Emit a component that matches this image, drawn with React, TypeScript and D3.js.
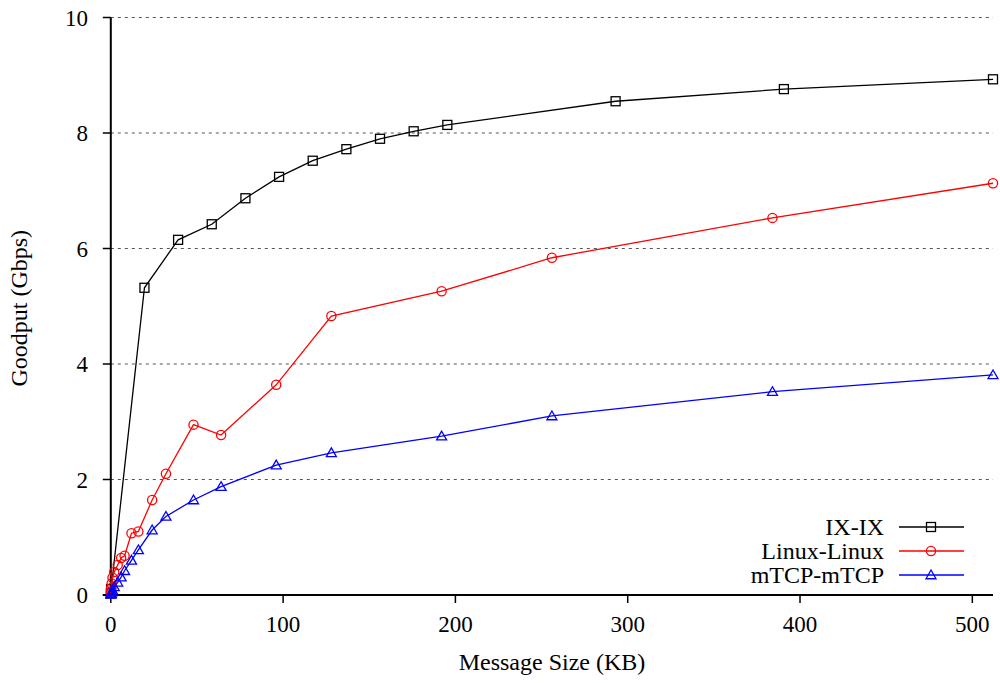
import React from "react";
import * as d3 from "d3";

const ixX = [0.0195, 0.195, 19.53, 39.06, 58.59, 78.13, 97.66, 117.19, 136.72, 156.25, 175.78, 195.31, 292.97, 390.63, 512];
const ixY = [0.03, 0.1, 5.32, 6.15, 6.42, 6.87, 7.24, 7.52, 7.72, 7.9, 8.03, 8.14, 8.55, 8.76, 8.93];

const linuxX = [0.0625, 0.125, 0.25, 0.5, 1, 2, 4, 6, 8, 12, 16, 24, 32, 48, 64, 96, 128, 192, 256, 384, 512];
const linuxY = [0.03, 0.06, 0.12, 0.2, 0.3, 0.4, 0.52, 0.64, 0.68, 1.07, 1.1, 1.645, 2.1, 2.95, 2.77, 3.64, 4.83, 5.26, 5.84, 6.53, 7.13];

const mtcpX = [0.0625, 0.125, 0.25, 0.5, 1, 2, 4, 6, 8, 12, 16, 24, 32, 48, 64, 96, 128, 192, 256, 384, 512];
const mtcpY = [0.01, 0.02, 0.03, 0.05, 0.08, 0.14, 0.22, 0.31, 0.42, 0.6, 0.78, 1.125, 1.36, 1.645, 1.875, 2.25, 2.46, 2.75, 3.1, 3.52, 3.81];

const xTicks = [0, 100, 200, 300, 400, 500];
const yTicks = [0, 2, 4, 6, 8, 10];
const seriesNames = ["IX-IX", "Linux-Linux", "mTCP-mTCP"];
const seriesColors = ["#000000", "#ff0000", "#0000ff"];

const FONT = "'Liberation Serif', 'Times New Roman', serif";

function Marker({ kind, cx, cy, color }: { kind: number; cx: number; cy: number; color: string }) {
  if (kind === 0) {
    return <rect x={cx - 4.5} y={cy - 4.5} width={9} height={9} fill="none" stroke={color} strokeWidth={1.3} />;
  }
  if (kind === 1) {
    return <circle cx={cx} cy={cy} r={4.6} fill="none" stroke={color} strokeWidth={1.3} />;
  }
  const s = 5;
  const pts = `${cx},${cy - s} ${cx - s},${cy + s * 0.75} ${cx + s},${cy + s * 0.75}`;
  return <polygon points={pts} fill="none" stroke={color} strokeWidth={1.3} />;
}

export default function App() {
  const width = 1000;
  const height = 683;
  const x = d3.scaleLinear().domain([0, 512]).range([110.8, 993]);
  const y = d3.scaleLinear().domain([0, 10]).range([595, 17.5]);

  const series = [
    ixX.map((v, i) => [v, ixY[i]] as [number, number]),
    linuxX.map((v, i) => [v, linuxY[i]] as [number, number]),
    mtcpX.map((v, i) => [v, mtcpY[i]] as [number, number]),
  ];
  const line = d3
    .line<[number, number]>()
    .x((d) => x(d[0]))
    .y((d) => y(d[1]));

  const x0 = x(0);
  const x1 = x(512);
  const y0 = y(0);

  return (
    <svg
      width={width}
      height={height}
      style={{ position: "absolute", left: 0, top: 0, background: "#fff" }}
      fontFamily={FONT}
    >
      <rect x={0} y={0} width={width} height={height} fill="#fff" />
      {/* grid */}
      {yTicks.filter((t) => t > 0).map((t) => (
        <line
          key={"g" + t}
          x1={x0}
          x2={x1}
          y1={y(t)}
          y2={y(t)}
          stroke="#555"
          strokeWidth={1}
          strokeDasharray="3,4"
        />
      ))}
      {/* y ticks & labels */}
      {yTicks.map((t) => (
        <g key={"y" + t}>
          <line x1={x0 - 8} x2={x0} y1={y(t)} y2={y(t)} stroke="#000" strokeWidth={1.5} />
          <text x={88} y={y(t)} dy="0.35em" textAnchor="end" fontSize={23} fill="#000">
            {t}
          </text>
        </g>
      ))}
      {/* x ticks & labels */}
      {xTicks.map((t) => (
        <g key={"x" + t}>
          <line x1={x(t)} x2={x(t)} y1={y0} y2={y0 + 8} stroke="#000" strokeWidth={1.5} />
          <text x={x(t)} y={632} textAnchor="middle" fontSize={23} fill="#000">
            {t}
          </text>
        </g>
      ))}
      {/* axes */}
      <line x1={x0} x2={x0} y1={y(10)} y2={y0} stroke="#000" strokeWidth={2} />
      <line x1={x0 - 8} x2={x1} y1={y0} y2={y0} stroke="#000" strokeWidth={2} />

      {/* series */}
      {series.map((s, si) => (
        <g key={"s" + si}>
          <path d={line(s) || ""} fill="none" stroke={seriesColors[si]} strokeWidth={1.3} />
          {s.map((d, i) => (
            <Marker key={i} kind={si} cx={x(d[0])} cy={y(d[1])} color={seriesColors[si]} />
          ))}
        </g>
      ))}

      {/* axis titles */}
      <text x={552} y={670} textAnchor="middle" fontSize={24} fill="#000">
        Message Size (KB)
      </text>
      <text
        transform={`translate(27,${y(5) + 2}) rotate(-90)`}
        textAnchor="middle"
        fontSize={24}
        fill="#000"
      >
        Goodput (Gbps)
      </text>

      {/* legend */}
      {seriesNames.map((n, i) => {
        const ly = 527 + i * 24;
        return (
          <g key={"l" + i}>
            <text x={884} y={ly} dy="0.35em" textAnchor="end" fontSize={24} fill="#000">
              {n}
            </text>
            <line x1={899} x2={964} y1={ly} y2={ly} stroke={seriesColors[i]} strokeWidth={1.3} />
            <Marker kind={i} cx={931} cy={ly} color={seriesColors[i]} />
          </g>
        );
      })}
    </svg>
  );
}
